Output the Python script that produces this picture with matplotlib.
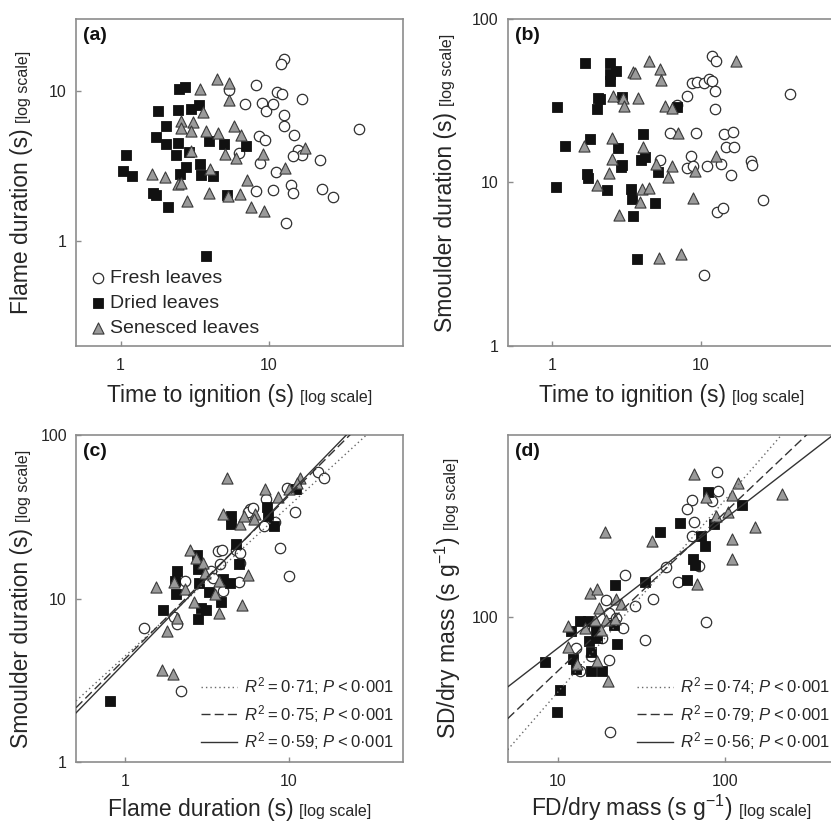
import numpy as np
import matplotlib
matplotlib.use("Agg")
import matplotlib.pyplot as plt
from matplotlib.ticker import LogLocator, FuncFormatter, NullLocator
from matplotlib.lines import Line2D

plt.rcParams['font.family'] = ['Liberation Sans', 'DejaVu Sans']
plt.rcParams['mathtext.fontset'] = 'custom'
plt.rcParams['mathtext.rm'] = 'Liberation Sans'
plt.rcParams['mathtext.it'] = 'Liberation Sans:italic'
plt.rcParams['mathtext.bf'] = 'Liberation Sans:bold'

# ---------------- DATA ----------------
# Panel (a): time to ignition (s) vs flame duration (s)
a_fresh_x = [12.6, 12.0, 8.2, 5.36, 11.4, 12.2, 6.88, 8.92, 9.6, 10.7, 16.7, 12.6, 12.6, 40.7, 8.55, 9.4,
             14.8, 6.3, 15.8, 16.8, 14.6, 8.65, 22.0, 11.1, 8.2, 10.7, 14.1, 14.4, 22.6, 26.8, 13.0]
a_fresh_y = [16.3, 15.1, 10.9, 10.1, 9.85, 9.45, 8.1, 8.32, 7.32, 8.1, 8.8, 6.88, 5.81, 5.52, 4.99, 4.69,
             5.06, 3.82, 4.02, 3.76, 3.67, 3.31, 3.47, 2.87, 2.14, 2.18, 2.35, 2.07, 2.22, 1.97, 1.31]
a_dried_x = [2.46, 2.70, 1.78, 2.43, 2.98, 3.38, 2.01, 1.72, 2.03, 2.43, 2.36, 2.89, 3.92, 5.01, 7.02, 1.09,
             1.04, 1.20, 2.77, 3.45, 2.50, 3.48, 4.20, 1.66, 1.72, 2.10, 5.22, 3.76]
a_dried_y = [10.3, 10.6, 7.32, 7.43, 7.51, 7.98, 5.84, 4.91, 4.41, 4.46, 3.76, 3.92, 4.62, 4.39, 4.30, 3.74,
             2.90, 2.71, 3.11, 3.23, 2.78, 2.75, 2.71, 2.09, 2.01, 1.69, 2.01, 0.80]
a_sen_x = [4.47, 5.36, 3.45, 5.36, 3.57, 2.54, 3.07, 2.54, 2.99, 3.78, 4.51, 5.83, 6.43, 2.98, 5.04, 6.01,
           9.11, 17.5, 12.8, 4.03, 1.63, 1.98, 2.43, 2.55, 7.10, 2.80, 3.92, 6.33, 5.30, 7.51, 9.25]
a_sen_y = [11.9, 11.3, 10.2, 8.66, 7.24, 6.31, 6.15, 5.67, 5.38, 5.41, 5.25, 5.84, 5.06, 3.96, 3.78, 3.54,
           3.78, 4.13, 3.07, 2.99, 2.78, 2.67, 2.38, 2.44, 2.56, 1.84, 2.08, 2.05, 1.98, 1.69, 1.58]

# Panel (b): time to ignition (s) vs smoulder duration (s)
b_fresh_x = [11.9, 12.6, 8.7, 9.4, 10.5, 11.4, 12.0, 12.5, 39.8, 8.14, 12.5, 6.87, 6.23, 9.25, 14.3, 16.6,
             14.7, 16.7, 5.33, 8.57, 8.05, 8.93, 11.0, 13.8, 15.9, 21.9, 22.2, 26.2, 12.8, 14.1, 10.5]
b_fresh_y = [59.3, 55.1, 40.4, 41.0, 40.8, 43.1, 41.7, 36.2, 34.7, 33.8, 28.0, 29.7, 20.1, 20.2, 19.7, 20.3,
             16.5, 16.4, 13.8, 14.6, 12.2, 12.6, 12.7, 12.9, 11.1, 13.5, 12.8, 7.83, 6.64, 7.03, 2.73]
b_dried_x = [1.66, 2.44, 2.44, 2.69, 2.44, 2.03, 2.09, 1.08, 2.00, 2.95, 6.97, 4.08, 1.78, 1.21, 2.76, 1.72,
             1.74, 2.95, 2.90, 3.96, 4.23, 5.17, 1.05, 2.35, 3.39, 3.44, 4.91, 3.48, 3.72]
b_dried_y = [53.8, 54.0, 46.1, 48.3, 41.5, 33.1, 32.2, 28.9, 28.1, 33.3, 29.1, 19.8, 18.5, 16.7, 16.2, 11.2,
             10.6, 12.8, 12.5, 13.7, 14.4, 11.6, 9.41, 9.02, 9.15, 7.94, 7.47, 6.28, 3.41]
b_sen_x = [4.46, 17.2, 3.48, 3.63, 5.33, 5.39, 2.55, 3.01, 3.78, 3.06, 5.76, 6.39, 7.08, 2.54, 1.64, 4.08,
           2.54, 2.40, 2.00, 5.01, 6.39, 6.04, 9.16, 12.6, 4.02, 4.46, 3.92, 2.80, 8.93, 5.25, 7.34]
b_sen_y = [55.1, 55.1, 47.6, 46.9, 49.2, 42.1, 33.8, 32.8, 32.8, 29.3, 29.3, 28.5, 20.1, 18.8, 16.8, 16.5,
           13.9, 11.5, 9.59, 12.9, 12.6, 10.8, 11.8, 14.6, 9.15, 9.23, 7.62, 6.31, 8.09, 3.46, 3.64]

# Panel (c): flame duration (s) vs smoulder duration (s)
c_fresh_x = [15.0, 16.5, 7.30, 9.77, 11.0, 5.77, 5.64, 6.05, 8.28, 7.06, 8.81, 10.1, 3.69, 3.93, 4.78, 5.01,
             3.78, 5.06, 3.33, 2.31, 3.44, 4.97, 3.96, 2.00, 2.07, 1.31, 2.20]
c_fresh_y = [59.3, 54.8, 40.8, 47.4, 33.8, 35.1, 33.8, 35.9, 29.5, 27.7, 20.3, 13.7, 19.5, 19.9, 19.9, 19.0,
             16.2, 16.4, 14.7, 12.9, 13.4, 12.6, 11.1, 7.72, 7.00, 6.61, 2.71]
c_dried_x = [7.37, 7.47, 8.13, 4.42, 4.46, 4.74, 4.94, 2.75, 2.79, 2.08, 2.01, 2.04, 2.81, 3.24, 3.83, 3.96,
             4.35, 1.71, 2.92, 3.13, 2.77, 0.81, 11.1]
c_dried_y = [36.4, 31.9, 27.7, 31.9, 28.7, 21.7, 16.3, 18.4, 15.2, 14.8, 12.8, 10.7, 12.4, 11.0, 9.54, 13.2,
             12.5, 8.57, 8.73, 8.57, 7.47, 2.37, 46.5]
c_sen_x = [4.17, 7.13, 8.57, 10.1, 11.8, 11.2, 3.96, 5.01, 5.33, 6.19, 6.11, 2.48, 2.72, 2.99, 1.55, 1.99,
           2.31, 2.63, 3.52, 3.73, 5.20, 5.64, 3.06, 1.79, 1.68, 1.96, 2.07, 3.73]
c_sen_y = [54.8, 46.9, 41.9, 46.5, 54.8, 50.6, 33.0, 28.4, 31.9, 33.0, 30.5, 19.9, 17.7, 16.4, 11.7, 12.6,
           11.4, 9.50, 10.7, 8.17, 9.19, 13.9, 14.4, 6.31, 3.64, 3.46, 7.58, 12.9]

# Panel (d): FD/dry mass (s g-1) vs SD/dry mass (s g-1)
d_fresh_x = [89.6, 90.3, 83.6, 63.2, 59.3, 65.0, 63.2, 44.4, 69.3, 52.1, 25.0, 19.4, 28.7, 37.0, 24.4, 16.4,
             18.3, 33.3, 12.8, 13.6, 20.2, 76.2, 20.5, 20.2, 22.1, 15.7]
d_fresh_y = [498, 402, 363, 367, 332, 286, 246, 173, 175, 148, 159, 120, 113, 122, 88.5, 87.9,
             79.3, 77.8, 71.0, 54.8, 62.4, 94.6, 28.0, 104, 98.9, 64.7]
d_dried_x = [78.7, 126, 53.8, 85.5, 40.5, 71.3, 75.5, 64.1, 65.6, 59.3, 33.0, 22.0, 13.5, 15.1, 12.0, 16.9,
             15.3, 17.2, 22.5, 15.8, 12.3, 12.8, 15.8, 18.2, 21.5, 8.40, 10.3, 9.91]
d_dried_y = [398, 344, 283, 281, 256, 244, 219, 190, 177, 150, 147, 142, 96.0, 96.0, 85.3, 86.9,
             76.4, 79.3, 74.5, 67.6, 62.8, 56.2, 54.8, 55.2, 91.9, 60.8, 44.4, 34.8]
d_sen_x = [65.0, 119, 110, 76.2, 219, 87.5, 103, 151, 110, 109, 67.2, 36.6, 19.2, 15.6, 17.2, 22.1,
           23.7, 17.6, 16.6, 19.4, 11.5, 14.4, 18.0, 21.8, 11.5, 12.9, 17.2, 19.8]
d_sen_y = [488, 442, 385, 378, 391, 307, 319, 270, 238, 191, 144, 231, 256, 131, 137, 122,
           115, 111, 97.1, 97.1, 90.2, 88.5, 86.9, 97.8, 71.8, 59.7, 61.6, 49.1]

# Fitted log-log regression lines (log10 y = intercept + slope * log10 x), order: fresh, dried, senesced
c_fit_slope = [0.915, 0.995, 1.027]
c_fit_intercept = [0.650, 0.633, 0.611]
c_fit_r2 = ['0·71', '0·75', '0·59']
d_fit_slope = [0.925, 0.764, 0.623]
d_fit_intercept = [0.715, 0.977, 1.228]
d_fit_r2 = ['0·74', '0·79', '0·56']
p_text = '0·001'

group_labels = ['Fresh leaves', 'Dried leaves', 'Senesced leaves']

# ---------------- STYLE ----------------
W, H = 831, 822
fig = plt.figure(figsize=(W / 100, H / 100), dpi=100)
fig.patch.set_facecolor('white')

spine_col = '#8c8c8c'
text_col = '#262626'
line_col = '#333333'
TS = '\u2009'  # thin space

def r2_label(r2):
    return r'$R^2$' + TS + '=' + TS + r2 + '; ' + r'$P$' + TS + '<' + TS + p_text

def px_axes(left, top, w, h):
    return fig.add_axes([left / W, 1 - (top + h) / H, w / W, h / H])

ax_a = px_axes(76, 19, 327, 327)
ax_b = px_axes(507.7, 19, 327, 327)
ax_c = px_axes(76, 435, 327, 327.3)
ax_d = px_axes(507.7, 435, 327, 327.3)

fmt = FuncFormatter(lambda v, p: f'{v:g}')

def style(ax, xlim, ylim):
    ax.set_xscale('log')
    ax.set_yscale('log')
    ax.set_xlim(*xlim)
    ax.set_ylim(*ylim)
    for s in ax.spines.values():
        s.set_color(spine_col)
        s.set_linewidth(1.2)
    ax.xaxis.set_major_locator(LogLocator(base=10, numticks=10))
    ax.yaxis.set_major_locator(LogLocator(base=10, numticks=10))
    ax.xaxis.set_minor_locator(NullLocator())
    ax.yaxis.set_minor_locator(NullLocator())
    ax.xaxis.set_major_formatter(fmt)
    ax.yaxis.set_major_formatter(fmt)
    ax.tick_params(axis='both', direction='in', length=3.5, width=1, color=spine_col,
                   labelsize=11.5, labelcolor=text_col)
    ax.tick_params(axis='x', pad=8.5)
    ax.tick_params(axis='y', pad=6.5)

def scatter3(ax, fx, fy, dx, dy, sx, sy):
    h1 = ax.scatter(fx, fy, s=56, marker='o', facecolor='white', edgecolor='#303030', linewidth=0.9, zorder=3,
                    label=group_labels[0])
    h2 = ax.scatter(dx, dy, s=46, marker='s', facecolor='#111111', edgecolor='#111111', linewidth=0.6, zorder=3,
                    label=group_labels[1])
    h3 = ax.scatter(sx, sy, s=64, marker='^', facecolor='#9a9a9a', edgecolor='#3a3a3a', linewidth=0.8, zorder=3,
                    label=group_labels[2])
    return [h1, h2, h3]

line_styles = [(0, (1, 2.2)), (0, (6.5, 3)), '-']
line_colors = ['#6a6a6a', line_col, line_col]

def fit_lines(ax, slopes, intercepts, r2s, xlim):
    xs = np.logspace(np.log10(xlim[0]), np.log10(xlim[1]), 50)
    handles = []
    for sl, ic, ls, col, r2 in zip(slopes, intercepts, line_styles, line_colors, r2s):
        ax.plot(xs, 10 ** (ic + sl * np.log10(xs)), linestyle=ls, color=col, linewidth=1.0, zorder=4)
        handles.append(Line2D([0], [0], linestyle=ls, color=col, linewidth=1.0, label=r2_label(r2)))
    return handles

xa, ya = (0.5, 80), (0.2, 30)
xb, yb = (0.5, 80), (1, 100)
xc, yc = (0.5, 50), (1, 100)
xd, yd = (5, 450), (20, 750)

style(ax_a, xa, ya)
style(ax_b, xb, yb)
style(ax_c, xc, yc)
style(ax_d, xd, yd)

hs = scatter3(ax_a, a_fresh_x, a_fresh_y, a_dried_x, a_dried_y, a_sen_x, a_sen_y)
scatter3(ax_b, b_fresh_x, b_fresh_y, b_dried_x, b_dried_y, b_sen_x, b_sen_y)
scatter3(ax_c, c_fresh_x, c_fresh_y, c_dried_x, c_dried_y, c_sen_x, c_sen_y)
scatter3(ax_d, d_fresh_x, d_fresh_y, d_dried_x, d_dried_y, d_sen_x, d_sen_y)

hc = fit_lines(ax_c, c_fit_slope, c_fit_intercept, c_fit_r2, xc)
hd = fit_lines(ax_d, d_fit_slope, d_fit_intercept, d_fit_r2, xd)

leg_a = ax_a.legend(handles=hs, loc='lower left', bbox_to_anchor=(0.045, 0.028), borderaxespad=0, borderpad=0,
                    frameon=False, fontsize=14, handlelength=0.75, handletextpad=0.25, labelspacing=0.38)
for t in leg_a.get_texts():
    t.set_color(text_col)

for ax, hh, xr in ((ax_c, hc, 0.972), (ax_d, hd, 0.985)):
    lg = ax.legend(handles=hh, loc='lower right', bbox_to_anchor=(xr, 0.03), borderaxespad=0, borderpad=0,
                   frameon=False, fontsize=12, handlelength=2.15, handletextpad=0.42, labelspacing=0.35)
    for t in lg.get_texts():
        t.set_color(text_col)

for ax, lab in ((ax_a, '(a)'), (ax_b, '(b)'), (ax_c, '(c)'), (ax_d, '(d)')):
    ax.text(7 / 327, 1 - 8 / 327, lab, transform=ax.transAxes, fontsize=14, fontweight='bold',
            ha='left', va='top', color='#111111')

# ---------- two-part axis labels ----------
fig.canvas.draw()
renderer = fig.canvas.get_renderer()
BIG, SMALL = 16.5, 11.5

def xlabel2(ax, big, small, below_px):
    pos = ax.get_position()
    cx = (pos.x0 + pos.x1) / 2 * W
    by = pos.y0 * H - below_px
    t1 = fig.text(0, by / H, big, fontsize=BIG, color=text_col, ha='left', va='baseline')
    t2 = fig.text(0, by / H, small, fontsize=SMALL, color=text_col, ha='left', va='baseline')
    w1 = t1.get_window_extent(renderer).width
    w2 = t2.get_window_extent(renderer).width
    gap = 6
    x0 = cx - (w1 + gap + w2) / 2
    t1.set_x(x0 / W)
    t2.set_x((x0 + w1 + gap) / W)

def ylabel2(ax, big, small, left_px):
    pos = ax.get_position()
    cy = (pos.y0 + pos.y1) / 2 * H
    bx = pos.x0 * W - left_px
    t1 = fig.text(bx / W, 0, big, fontsize=BIG, color=text_col, rotation=90, rotation_mode='anchor',
                  ha='left', va='baseline')
    t2 = fig.text(bx / W, 0, small, fontsize=SMALL, color=text_col, rotation=90, rotation_mode='anchor',
                  ha='left', va='baseline')
    h1 = t1.get_window_extent(renderer).height
    h2 = t2.get_window_extent(renderer).height
    gap = 6
    y0 = cy - (h1 + gap + h2) / 2
    t1.set_y(y0 / H)
    t2.set_y((y0 + h1 + gap) / H)

xlabel2(ax_a, 'Time to ignition (s)', '[log scale]', 55.5)
xlabel2(ax_b, 'Time to ignition (s)', '[log scale]', 55.5)
xlabel2(ax_c, 'Flame duration (s)', '[log scale]', 54)
xlabel2(ax_d, r'FD/dry mass (s g$^{-1}$)', '[log scale]', 54)
ylabel2(ax_a, 'Flame duration (s)', '[log scale]', 48)
ylabel2(ax_b, 'Smoulder duration (s)', '[log scale]', 56)
ylabel2(ax_c, 'Smoulder duration (s)', '[log scale]', 48)
ylabel2(ax_d, r'SD/dry mass (s g$^{-1}$)', '[log scale]', 52)

fig.savefig('out.png', dpi=100, facecolor='white')
